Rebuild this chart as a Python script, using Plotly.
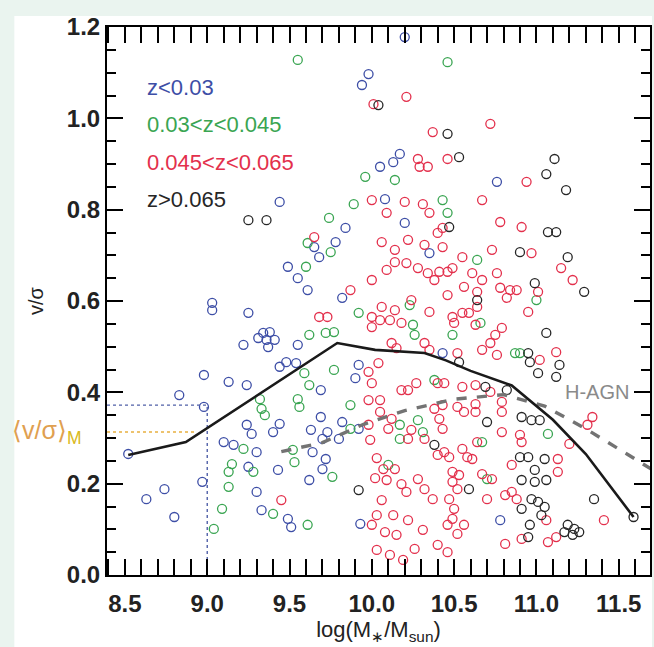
import plotly.graph_objects as go

# ---------------- data ----------------
blue_x = [8.52, 8.63, 8.74, 8.80, 8.97, 8.98, 8.83, 9.10, 9.16, 9.30, 9.25, 9.24, 9.27, 9.40, 9.44,
          9.43, 9.30, 9.33, 9.49, 9.51, 9.62, 9.63, 9.64, 9.69, 9.70, 9.73, 9.72, 9.70, 9.80, 9.92,
          9.82, 9.93, 9.65, 9.68, 9.78, 9.84, 9.49, 9.55, 9.61, 9.82, 9.03, 9.03, 9.25, 9.34, 9.38,
          9.36, 9.41, 9.31, 9.22, 9.37, 9.55, 9.48, 9.54, 9.44, 8.98, 9.13, 9.24, 9.92, 9.90, 9.69,
          9.44, 9.98, 9.94, 10.17, 10.13, 10.05, 10.08, 10.20, 10.76, 10.20, 10.35, 10.43, 10.78]
blue_y = [0.265, 0.166, 0.188, 0.127, 0.204, 0.368, 0.394, 0.291, 0.285, 0.269, 0.237, 0.329, 0.309, 0.313, 0.331,
          0.230, 0.182, 0.142, 0.123, 0.105, 0.208, 0.318, 0.269, 0.346, 0.298, 0.313, 0.254, 0.232, 0.298, 0.320,
          0.335, 0.112, 0.718, 0.696, 0.729, 0.760, 0.675, 0.650, 0.624, 0.607, 0.596, 0.580, 0.574, 0.530, 0.532,
          0.515, 0.515, 0.519, 0.504, 0.499, 0.504, 0.466, 0.464, 0.456, 0.438, 0.423, 0.416, 0.460, 0.431, 0.405,
          0.817, 1.097, 1.073, 0.922, 0.904, 0.894, 0.823, 1.178, 0.861, 0.771, 0.705, 0.486, 0.120]

green_x = [9.04, 9.09, 9.22, 9.15, 9.13, 9.13, 9.28, 9.33, 9.35, 9.32, 9.40, 9.61, 9.52, 9.53, 9.55,
           9.56, 9.76, 9.87, 9.87, 9.61, 9.74, 9.75, 9.60, 9.92, 9.62, 9.72, 9.77, 9.59, 9.77, 9.62,
           9.55, 9.96, 9.89, 10.46, 10.14, 10.43, 10.46, 10.64, 11.00, 10.66, 10.49, 10.23, 10.25, 10.26,
           10.87, 10.90, 10.17, 10.17, 10.28, 10.31, 10.67, 11.07, 10.70, 10.10, 10.38]
green_y = [0.101, 0.145, 0.276, 0.243, 0.226, 0.193, 0.226, 0.364, 0.350, 0.385, 0.134, 0.110, 0.274, 0.247, 0.385,
           0.368, 0.215, 0.372, 0.320, 0.727, 0.782, 0.707, 0.675, 0.574, 0.526, 0.530, 0.532, 0.442, 0.449, 0.416,
           1.128, 0.872, 0.812, 1.123, 0.865, 0.821, 0.793, 0.690, 0.602, 0.552, 0.526, 0.591, 0.548, 0.526,
           0.486, 0.486, 0.329, 0.298, 0.339, 0.313, 0.291, 0.309, 0.210, 0.241, 0.427]

red_x = [10.01, 10.21, 10.72, 10.37, 10.28, 10.29, 10.34, 10.46, 10.94, 10.67, 10.20, 10.31, 10.00, 10.09, 10.22,
         10.14, 10.06, 10.35, 10.43, 10.40, 10.32, 10.43, 10.14, 10.21, 10.09, 10.28, 10.34, 10.41, 10.38, 10.78,
         10.91, 10.73, 10.97, 10.55, 11.15, 11.22, 10.46, 10.49, 10.61, 10.67, 10.76, 10.78, 10.84, 10.88, 10.82,
         11.01, 10.95, 10.56, 10.64, 10.46, 10.64, 10.59, 10.55, 10.49, 10.50, 10.63, 10.35, 10.24, 10.14, 10.06,
         10.05, 10.11, 10.18, 10.79, 10.75, 10.72, 10.67, 10.76, 11.02, 11.12, 10.12, 10.15, 10.32, 10.35, 10.52,
         10.04, 10.27, 10.40, 10.44, 10.55, 10.63, 10.72, 10.18, 10.22, 9.65, 9.68, 9.73, 9.87, 10.00, 10.00,
         10.00, 9.98, 10.00, 10.00, 9.45,
         10.05, 10.05, 10.12, 10.10, 10.22, 10.24, 10.32, 10.38, 10.43, 10.41, 10.43, 10.40, 10.44, 10.47, 10.55,
         10.58, 10.61, 10.52, 10.56, 10.63, 10.63, 10.79, 10.79, 10.79, 10.64, 10.90, 10.91, 11.20, 11.31, 11.34,
         11.13, 11.13, 10.85, 10.07, 10.14, 10.09, 10.18, 10.28, 10.21, 10.32, 10.37, 10.49, 10.53, 10.49, 10.52,
         10.67, 10.73, 10.70, 10.81, 10.85, 10.88, 11.06, 10.47, 10.50, 10.49, 10.46, 10.56, 10.52, 10.91, 11.07,
         11.12, 11.41, 10.81, 10.40, 10.46, 10.26,
         9.99, 10.03, 10.02, 10.06, 10.03, 10.08, 10.03, 10.13, 10.15, 10.11, 10.22, 10.31, 10.19, 9.98, 9.98]
red_y = [1.031, 1.047, 0.988, 0.970, 0.911, 0.894, 0.894, 0.911, 0.861, 0.821, 0.817, 0.812, 0.821, 0.793, 0.734,
         0.712, 0.729, 0.793, 0.760, 0.749, 0.723, 0.718, 0.685, 0.683, 0.668, 0.672, 0.661, 0.664, 0.646, 0.773,
         0.762, 0.712, 0.705, 0.696, 0.672, 0.646, 0.664, 0.672, 0.661, 0.646, 0.661, 0.629, 0.624, 0.624, 0.607,
         0.620, 0.576, 0.631, 0.620, 0.613, 0.587, 0.574, 0.574, 0.565, 0.552, 0.548, 0.576, 0.602, 0.580, 0.587,
         0.558, 0.558, 0.552, 0.541, 0.526, 0.508, 0.493, 0.482, 0.471, 0.488, 0.508, 0.497, 0.508, 0.493, 0.486,
         0.464, 0.420, 0.420, 0.420, 0.412, 0.416, 0.401, 0.405, 0.405, 0.740, 0.565, 0.565, 0.624, 0.646, 0.565,
         0.543, 0.445, 0.420, 0.110, 0.164,
         0.383, 0.357, 0.342, 0.320, 0.298, 0.318, 0.298, 0.364, 0.372, 0.342, 0.320, 0.263, 0.269, 0.258, 0.276,
         0.258, 0.254, 0.368, 0.357, 0.357, 0.374, 0.357, 0.379, 0.313, 0.291, 0.307, 0.291, 0.287, 0.329, 0.346,
         0.254, 0.226, 0.241, 0.232, 0.232, 0.208, 0.199, 0.210, 0.182, 0.188, 0.166, 0.226, 0.219, 0.204, 0.188,
         0.221, 0.210, 0.166, 0.175, 0.182, 0.166, 0.120, 0.166, 0.145, 0.123, 0.110, 0.110, 0.090, 0.079, 0.072,
         0.083, 0.120, 0.068, 0.066, 0.050, 0.057,
         0.296, 0.256, 0.212, 0.164, 0.131, 0.094, 0.055, 0.131, 0.088, 0.044, 0.120, 0.099, 0.033, 0.383, 0.329]

black_x = [9.25, 9.36, 9.92, 10.04, 10.46, 10.53, 11.06, 11.11, 11.18, 10.47, 11.07, 11.12, 10.90, 11.19, 11.29,
           10.99, 10.64, 11.06, 10.95, 10.96, 11.01, 11.14, 11.12, 10.53, 10.69, 10.82, 10.91, 10.97, 11.02, 10.90,
           10.95, 11.05, 10.99, 10.91, 10.99, 10.59, 10.91, 10.97, 11.01, 11.05, 11.03, 10.96, 10.95, 11.17, 11.19,
           11.23, 11.26, 11.22, 11.35, 11.59, 11.06, 10.38, 10.70]
black_y = [0.777, 0.777, 0.186, 1.029, 0.966, 0.915, 0.878, 0.911, 0.843, 0.762, 0.751, 0.751, 0.707, 0.696, 0.620,
           0.639, 0.602, 0.530, 0.486, 0.466, 0.442, 0.460, 0.434, 0.466, 0.412, 0.405, 0.346, 0.339, 0.339, 0.258,
           0.258, 0.254, 0.230, 0.208, 0.204, 0.188, 0.145, 0.166, 0.160, 0.149, 0.131, 0.110, 0.083, 0.094, 0.110,
           0.101, 0.094, 0.088, 0.166, 0.127, 0.208, 0.285, 0.335]

# mean relation (solid) and H-AGN relation (dashed)
obs_x = [8.52, 8.87, 9.79, 10.02, 10.32, 10.45, 10.60, 10.85, 11.10, 11.30, 11.59]
obs_y = [0.263, 0.291, 0.508, 0.493, 0.486, 0.470, 0.447, 0.415, 0.340, 0.265, 0.127]
hagn_x = [9.45, 9.70, 9.95, 10.20, 10.50, 10.80, 11.05, 11.30, 11.55, 11.75]
hagn_y = [0.270, 0.290, 0.330, 0.360, 0.385, 0.395, 0.370, 0.320, 0.265, 0.220]

# reference values
mass_cut = 9.0
vs_at_cut = 0.372
vs_mean = 0.313

group_labels = ["z<0.03", "0.03<z<0.045", "0.045<z<0.065", "z>0.065"]
group_colors = ["#3d4ea6", "#3aa552", "#e3304c", "#262626"]
x_ticks = [8.5, 9.0, 9.5, 10.0, 10.5, 11.0, 11.5]
y_ticks = [0.0, 0.2, 0.4, 0.6, 0.8, 1.0, 1.2]

# ---------------- figure ----------------
XMIN, XMAX = 8.391, 11.69
W, H = 654, 647
L, R, T, B = 107, 2, 27, 72
pw, ph = W - L - R, H - T - B

fig = go.Figure()

groups = [(blue_x, blue_y), (green_x, green_y), (red_x, red_y), (black_x, black_y)]
for (gx, gy), name, col in zip(groups, group_labels, group_colors):
    fig.add_trace(go.Scatter(x=gx, y=gy, mode="markers", name=name,
                             marker=dict(symbol="circle-open", size=9, color=col,
                                         line=dict(width=1.3, color=col)),
                             cliponaxis=True))

# dotted reference lines
fig.add_trace(go.Scatter(x=[XMIN, mass_cut, mass_cut], y=[vs_at_cut, vs_at_cut, 0],
                         mode="lines", line=dict(color="#5060a8", width=1.4, dash="dot")))
fig.add_trace(go.Scatter(x=[XMIN, 8.92], y=[vs_mean, vs_mean],
                         mode="lines", line=dict(color="#e8b040", width=1.4, dash="dot")))

fig.add_trace(go.Scatter(x=hagn_x, y=hagn_y, mode="lines",
                         line=dict(color="#737373", width=3.4, dash="dash")))
fig.add_trace(go.Scatter(x=obs_x, y=obs_y, mode="lines",
                         line=dict(color="#1a1a1a", width=2.6)))

# legend-like texts
ly = [0.889, 0.822, 0.753, 0.685]
for lab, col, yy in zip(group_labels, group_colors, ly):
    fig.add_annotation(x=8.62, y=yy * 1.2, xref="x", yref="y", text=lab, showarrow=False,
                       xanchor="left", yanchor="middle",
                       font=dict(family="Liberation Sans", size=22, color=col))

fig.add_annotation(x=11.16, y=0.401, xref="x", yref="y", text="H-AGN", showarrow=False,
                   xanchor="left", yanchor="middle",
                   font=dict(family="Liberation Sans", size=20, color="#8a8a8a"))

fig.add_annotation(x=(10 - L) / pw, y=vs_mean / 1.2, xref="paper", yref="paper",
                   text="⟨v/σ⟩<sub><span style='color:#d9b820'>M</span></sub>",
                   showarrow=False, xanchor="left", yanchor="middle",
                   font=dict(family="Liberation Sans", size=25, color="#e0a050"))

axis_common = dict(showgrid=False, zeroline=False, showline=True, linecolor="black",
                   linewidth=2, mirror="ticks", ticks="inside", tickcolor="black",
                   tickwidth=2, ticklen=16,
                   tickfont=dict(family="Liberation Sans", size=24, color="#222", weight="bold"))

fig.update_xaxes(range=[XMIN, XMAX], tickvals=x_ticks, ticktext=[f"{v:.1f}" for v in x_ticks],
                 minor=dict(dtick=0.1, tick0=8.5, ticks="inside", ticklen=16, tickwidth=2,
                            tickcolor="black"),
                 ticklabelstandoff=6,
                 title=dict(text="log(M<sub>∗</sub>/M<sub>sun</sub>)", standoff=6,
                            font=dict(family="Liberation Sans", size=22, color="#222")),
                 **axis_common)
fig.update_yaxes(range=[0, 1.2], tickvals=y_ticks, ticktext=[f"{v:.1f}" for v in y_ticks],
                 minor=dict(dtick=0.05, tick0=0, ticks="inside", ticklen=9, tickwidth=2,
                            tickcolor="black"),
                 title=dict(text="v/σ", standoff=18,
                            font=dict(family="Liberation Sans", size=20, color="#222")),
                 **axis_common)

fig.add_shape(type="rect", xref="paper", yref="paper", layer="below",
              x0=(14 - L) / pw, x1=(W - L) / pw, y0=-B / ph, y1=(H - 16 - B) / ph,
              fillcolor="white", line=dict(width=0))

fig.update_layout(width=W, height=H, margin=dict(l=L, r=R, t=T, b=B),
                  paper_bgcolor="#eaf4ef", plot_bgcolor="white", showlegend=False)

fig.write_html("out.html")
